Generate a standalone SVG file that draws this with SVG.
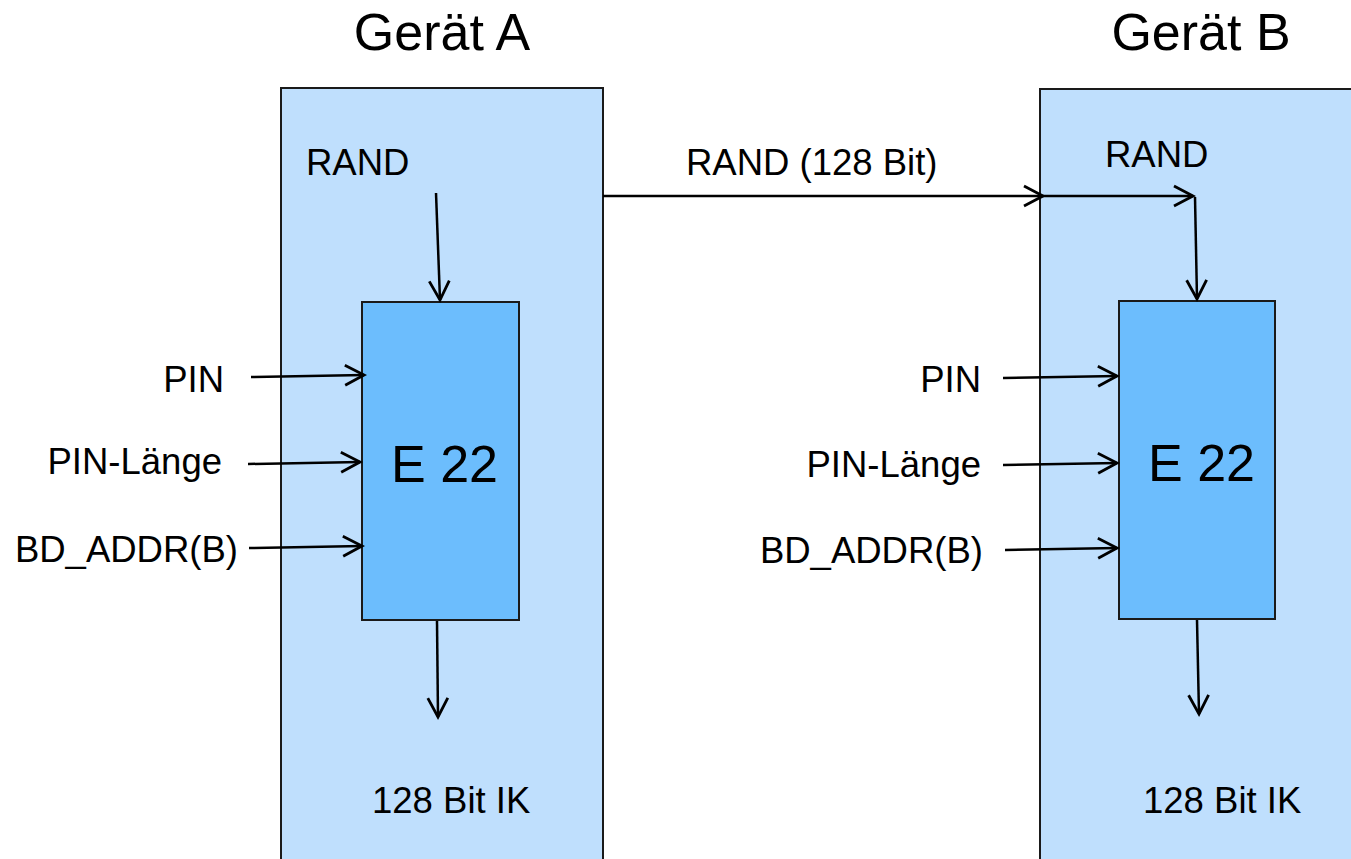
<svg xmlns="http://www.w3.org/2000/svg" width="1351" height="859" viewBox="0 0 1351 859">
  <style>
    text { font-family: "Liberation Sans", Arial, sans-serif; fill: #000; }
    .title { font-size: 52px; text-anchor: middle; }
    .lbl { font-size: 36.5px; }
    .big { font-size: 52px; }
    .dev { fill: #bfdffd; stroke: #1a1a1a; stroke-width: 2; }
    .fn { fill: #6cbdfd; stroke: #1a1a1a; stroke-width: 2; }
    .wire { fill: none; stroke: #000; stroke-width: 2.5; marker-end: url(#open); }
  </style>
  <defs>
    <!-- open V-shaped arrowhead -->
    <marker id="open" viewBox="0 0 26 26" refX="22" refY="13" markerWidth="26" markerHeight="26" markerUnits="userSpaceOnUse" orient="auto">
      <path d="M3,3 L22,13 L3,23" fill="none" stroke="#000" stroke-width="2.8"/>
    </marker>
  </defs>

  <!-- device A -->
  <g id="geraet-a">
    <text class="title" x="442" y="50">Gerät A</text>
    <rect class="dev" x="281" y="88" width="322" height="790"/>
  </g>
  <!-- device B -->
  <g id="geraet-b">
    <text class="title" x="1201" y="50">Gerät B</text>
    <rect class="dev" x="1040" y="89" width="330" height="790"/>
  </g>

  <!-- E22 blocks -->
  <g id="e22-a">
    <rect class="fn" x="362" y="302" width="157" height="318"/>
    <text class="big" x="391" y="482">E 22</text>
  </g>
  <g id="e22-b">
    <rect class="fn" x="1119" y="301" width="156" height="318"/>
    <text class="big" x="1148" y="481">E 22</text>
  </g>

  <!-- labels -->
  <g id="labels-a" class="lbl">
    <text x="306" y="175">RAND</text>
    <text x="224" y="392" text-anchor="end">PIN</text>
    <text x="222" y="474" text-anchor="end">PIN-Länge</text>
    <text x="238" y="562" text-anchor="end">BD_ADDR(B)</text>
    <text x="372" y="813">128 Bit IK</text>
  </g>
  <g id="labels-b" class="lbl">
    <text x="1105" y="167">RAND</text>
    <text x="686" y="175">RAND (128 Bit)</text>
    <text x="981" y="392" text-anchor="end">PIN</text>
    <text x="981" y="477" text-anchor="end">PIN-Länge</text>
    <text x="983" y="563" text-anchor="end">BD_ADDR(B)</text>
    <text x="1143" y="813">128 Bit IK</text>
  </g>

  <!-- connectors -->
  <g id="connectors">
    <line class="wire" x1="436" y1="193" x2="440" y2="300"/>
    <line class="wire" x1="251" y1="377" x2="364" y2="375"/>
    <line class="wire" x1="248" y1="464" x2="360" y2="462"/>
    <line class="wire" x1="249" y1="548" x2="362" y2="546"/>
    <line class="wire" x1="437" y1="621" x2="438" y2="717"/>

    <line class="wire" x1="603" y1="196" x2="1043" y2="196"/>
    <line class="wire" x1="1043" y1="196" x2="1193" y2="196"/>
    <line class="wire" x1="1195" y1="197" x2="1197" y2="299"/>
    <line class="wire" x1="1003" y1="378" x2="1117" y2="376"/>
    <line class="wire" x1="1003" y1="465" x2="1117" y2="463"/>
    <line class="wire" x1="1005" y1="550" x2="1117" y2="548"/>
    <line class="wire" x1="1197" y1="620" x2="1199" y2="714"/>
  </g>
</svg>
